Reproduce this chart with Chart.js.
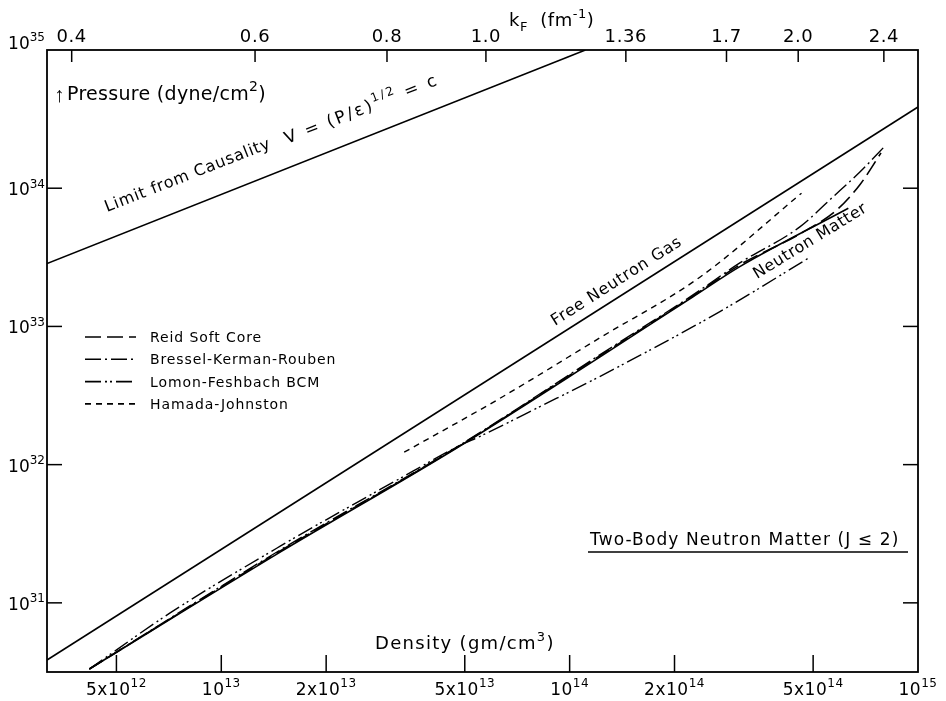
<!DOCTYPE html>
<html>
<head>
<meta charset="utf-8">
<script src="https://cdn.jsdelivr.net/npm/chart.js@4.4.0/dist/chart.umd.min.js"></script>
<style>
html, body { margin: 0; padding: 0; background: #fff; }
#wrap { width: 946px; height: 701px; }
</style>
</head>
<body>
<div id="wrap"><canvas id="c" width="946" height="701"></canvas></div>
<script>
// Limites dos eixos (densidade em g/cm3, pressão em dyne/cm2)
const densityMin = 3.16e12, densityMax = 1e15;
const pressureMin = 3.16e30, pressureMax = 1e35;

// Limite de causalidade P = rho c^2
const causalityDensity = [3.16e12, 1.11e14];
const causalityPressure = [2.85e33, 1.0e35];

// Gás de nêutrons livres
const freeGasDensity = [3.16e12, 1.0e15];
const freeGasPressure = [3.86e30, 3.87e34];

// Matéria de nêutrons de dois corpos (linha sólida)
const twoBodyDensity = [4.18e12, 1.48e13, 4.74e13, 1.22e14, 2.26e14, 3.08e14, 6.31e14];
const twoBodyPressure = [3.32e30, 2.34e31, 1.32e32, 6.0e32, 1.64e33, 2.71e33, 7.16e33];

// Reid Soft Core
const reidDensity = [4.18e12, 1.48e13, 4.74e13, 1.22e14, 2.26e14, 3.08e14, 4.58e14, 5.85e14, 6.81e14, 7.83e14];
const reidPressure = [3.32e30, 2.38e31, 1.33e32, 6.12e32, 1.66e33, 2.79e33, 4.67e33, 6.97e33, 1.06e34, 1.80e34];

// Bressel-Kerman-Rouben
const bkrDensity = [4.18e12, 1.48e13, 4.74e13, 1.22e14, 2.26e14, 3.08e14, 4.58e14, 5.70e14, 6.81e14, 8.04e14];
const bkrPressure = [3.32e30, 2.42e31, 1.34e32, 6.22e32, 1.69e33, 2.88e33, 5.25e33, 8.65e33, 1.31e34, 2.02e34];

// Lomon-Feshbach BCM
const lfDensity = [4.18e12, 7.13e12, 1.48e13, 3.56e13, 4.74e13, 5.64e13, 8.22e13, 1.22e14, 2.70e14, 4.84e14];
const lfPressure = [3.32e30, 8.45e30, 2.58e31, 9.0e31, 1.34e32, 1.64e32, 2.63e32, 4.34e32, 1.28e33, 3.11e33];

// Hamada-Johnston
const hjDensity = [3.35e13, 6.31e13, 1.22e14, 2.37e14, 4.63e14];
const hjPressure = [1.23e32, 3.02e32, 8.26e32, 2.28e33, 9.2e33];

// Marcas dos eixos
const densityTicks = [5e12, 1e13, 2e13, 5e13, 1e14, 2e14, 5e14, 1e15];
const densityTickLabels = ['5x10^{12}', '10^{13}', '2x10^{13}', '5x10^{13}', '10^{14}', '2x10^{14}', '5x10^{14}', '10^{15}'];
const pressureTicks = [1e31, 1e32, 1e33, 1e34, 1e35];
const pressureTickLabels = ['10^{31}', '10^{32}', '10^{33}', '10^{34}', '10^{35}'];
const kfTickLabels = ['0.4', '0.6', '0.8', '1.0', '1.36', '1.7', '2.0', '2.4'];
const kfTickDensity = [3.72e12, 1.25e13, 2.99e13, 5.75e13, 1.45e14, 2.82e14, 4.53e14, 7.98e14];

const legendNames = ['Reid Soft Core', 'Bressel-Kerman-Rouben', 'Lomon-Feshbach BCM', 'Hamada-Johnston'];

const FONT = '"DejaVu Sans", sans-serif';

function points(xs, ys) {
    return xs.map((x, i) => ({ x: x, y: ys[i] }));
}

// Texto com expoentes ^{..} e índices _{..}
function parseRich(str) {
    const segs = [];
    const re = /([\^_])\{([^}]*)\}/g;
    let last = 0, m;
    while ((m = re.exec(str))) {
        if (m.index > last) segs.push({ t: str.slice(last, m.index), k: 'n' });
        segs.push({ t: m[2], k: m[1] === '^' ? 'sup' : 'sub' });
        last = re.lastIndex;
    }
    if (last < str.length) segs.push({ t: str.slice(last), k: 'n' });
    return segs;
}

function drawRich(ctx, str, x, y, o) {
    o = o || {};
    const size = o.size || 16;
    const small = Math.round(size * 0.72);
    const segs = parseRich(str);
    ctx.save();
    ctx.letterSpacing = (o.spacing || 0) + 'px';
    let w = 0;
    segs.forEach(s => {
        ctx.font = (s.k === 'n' ? size : small) + 'px ' + FONT;
        s.w = ctx.measureText(s.t).width;
        w += s.w;
    });
    ctx.translate(x, y);
    if (o.angle) ctx.rotate(o.angle * Math.PI / 180);
    let cx = o.align === 'center' ? -w / 2 : (o.align === 'right' ? -w : 0);
    ctx.fillStyle = '#000';
    ctx.textAlign = 'left';
    ctx.textBaseline = 'alphabetic';
    segs.forEach(s => {
        ctx.font = (s.k === 'n' ? size : small) + 'px ' + FONT;
        const dy = s.k === 'sup' ? -size * 0.45 : (s.k === 'sub' ? size * 0.3 : 0);
        ctx.fillText(s.t, cx, dy);
        cx += s.w;
    });
    ctx.restore();
}

function line(ctx, x1, y1, x2, y2) {
    ctx.beginPath();
    ctx.moveTo(x1, y1);
    ctx.lineTo(x2, y2);
    ctx.stroke();
}

// Moldura, marcas internas, rótulos e legenda
const decorPlugin = {
    id: 'decor',
    afterDraw(chart) {
        const ctx = chart.ctx;
        const a = chart.chartArea;
        const sx = chart.scales.x, sy = chart.scales.y;
        ctx.save();
        ctx.strokeStyle = '#000';
        ctx.lineWidth = 1.8;
        ctx.strokeRect(a.left, a.top, a.right - a.left, a.bottom - a.top);

        ctx.lineWidth = 1.5;
        densityTicks.forEach((v, i) => {
            const px = sx.getPixelForValue(v);
            if (v < densityMax) line(ctx, px, a.bottom, px, a.bottom - 17);
            drawRich(ctx, densityTickLabels[i], px, a.bottom + 23, { size: 17, align: 'center', spacing: 0.5 });
        });
        pressureTicks.forEach((v, i) => {
            const py = sy.getPixelForValue(v);
            if (v < pressureMax) {
                line(ctx, a.left, py, a.left + 15, py);
                line(ctx, a.right, py, a.right - 15, py);
                drawRich(ctx, pressureTickLabels[i], a.left - 2, py + 7, { size: 17, align: 'right' });
            } else {
                drawRich(ctx, pressureTickLabels[i], a.left - 2, py - 1, { size: 17, align: 'right' });
            }
        });
        kfTickDensity.forEach((v, i) => {
            const px = sx.getPixelForValue(v);
            line(ctx, px, a.top, px, a.top + 12);
            drawRich(ctx, kfTickLabels[i], px, a.top - 8, { size: 18, align: 'center', spacing: 0.6 });
        });

        // títulos dos eixos
        drawRich(ctx, 'k_{F}  (fm^{-1})', 509, 26, { size: 18, spacing: 0.5 });
        ctx.font = 'bold 21px "Liberation Sans", sans-serif';
        ctx.fillStyle = '#000';
        ctx.fillText('\u2191', 54, 102);
        drawRich(ctx, 'Pressure (dyne/cm^{2})', 67, 100, { size: 19, spacing: 0.3 });
        drawRich(ctx, 'Density (gm/cm^{3})', 375, 649, { size: 18, spacing: 1.3 });

        // rótulos das curvas
        drawRich(ctx, 'Limit from Causality', 107, 212, { size: 16, angle: -21.4, spacing: 0.8 });
        drawRich(ctx, 'V = (P/\u03b5)^{1/2} = c', 287, 144, { size: 17, angle: -21.4, spacing: 2.2 });
        drawRich(ctx, 'Free Neutron Gas', 555, 326, { size: 16, angle: -32.5, spacing: 0.8 });
        drawRich(ctx, 'Neutron Matter', 757, 279, { size: 16, angle: -31.5, spacing: 0.6 });
        drawRich(ctx, 'Two-Body Neutron Matter (J \u2264 2)', 590, 545, { size: 17, spacing: 1.1 });
        ctx.lineWidth = 1.6;
        line(ctx, 588, 552, 908, 552);

        // legenda
        const ds = chart.data.datasets;
        legendNames.forEach((name, i) => {
            const d = ds.find(s => s.label === name);
            const y = 337 + i * 22.3;
            ctx.save();
            ctx.lineWidth = 1.6;
            ctx.setLineDash(d.borderDash || []);
            line(ctx, 85, y, 136, y);
            ctx.restore();
            drawRich(ctx, name, 150, y + 5, { size: 14, spacing: 0.9 });
        });
        ctx.restore();
    }
};

const black = '#000';
const chart = new Chart(document.getElementById('c'), {
    type: 'line',
    data: {
        datasets: [
            { label: 'Causality', data: points(causalityDensity, causalityPressure), borderColor: black, borderWidth: 1.6, tension: 0 },
            { label: 'Free Neutron Gas', data: points(freeGasDensity, freeGasPressure), borderColor: black, borderWidth: 1.6, tension: 0 },
            { label: 'Two-Body Neutron Matter', data: points(twoBodyDensity, twoBodyPressure), borderColor: black, borderWidth: 1.6, cubicInterpolationMode: 'monotone' },
            { label: 'Reid Soft Core', data: points(reidDensity, reidPressure), borderColor: black, borderWidth: 1.6, borderDash: [16, 6], cubicInterpolationMode: 'monotone' },
            { label: 'Bressel-Kerman-Rouben', data: points(bkrDensity, bkrPressure), borderColor: black, borderWidth: 1.4, borderDash: [16, 4, 2, 4], cubicInterpolationMode: 'monotone' },
            { label: 'Lomon-Feshbach BCM', data: points(lfDensity, lfPressure), borderColor: black, borderWidth: 1.4, borderDash: [16, 4, 2, 3, 2, 4], cubicInterpolationMode: 'monotone' },
            { label: 'Hamada-Johnston', data: points(hjDensity, hjPressure), borderColor: black, borderWidth: 1.4, borderDash: [6, 5], cubicInterpolationMode: 'monotone' }
        ]
    },
    options: {
        responsive: false,
        animation: false,
        devicePixelRatio: 1,
        elements: { point: { radius: 0 } },
        layout: { padding: { left: 0, right: 28, top: 0, bottom: 0 } },
        plugins: { legend: { display: false }, tooltip: { enabled: false } },
        scales: {
            x: {
                type: 'logarithmic', position: 'bottom', min: densityMin, max: densityMax,
                grid: { display: false }, border: { display: false }, ticks: { display: false },
                afterFit: s => { s.height = 29; }
            },
            x2: {
                type: 'logarithmic', position: 'top', min: densityMin, max: densityMax,
                grid: { display: false }, border: { display: false }, ticks: { display: false },
                afterFit: s => { s.height = 50; }
            },
            y: {
                type: 'logarithmic', position: 'left', min: pressureMin, max: pressureMax,
                grid: { display: false }, border: { display: false }, ticks: { display: false },
                afterFit: s => { s.width = 47; }
            }
        }
    },
    plugins: [decorPlugin]
});
</script>
</body>
</html>
